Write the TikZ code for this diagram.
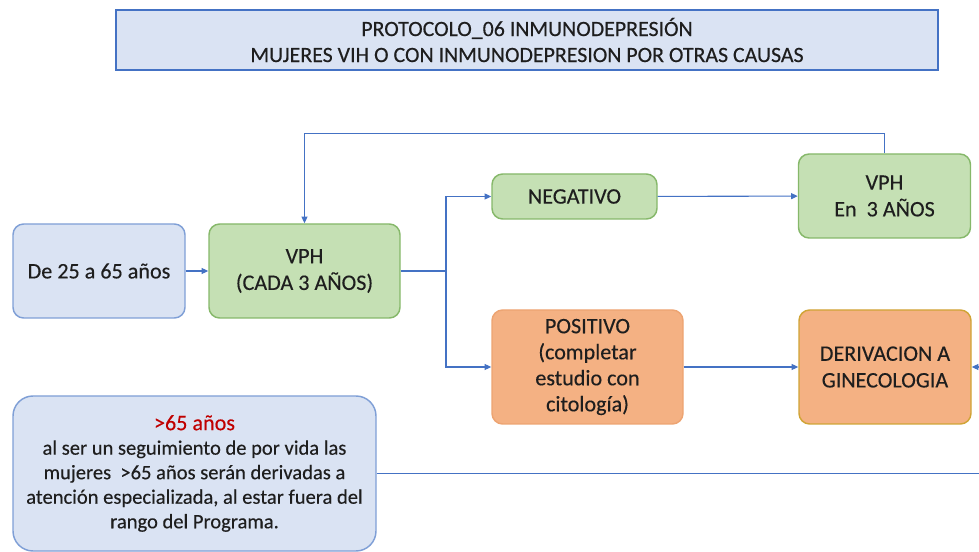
\documentclass[tikz,border=0pt]{standalone}
\usepackage{fontspec}
\setmainfont{Carlito}[FakeBold=0.3]
\usetikzlibrary{arrows.meta}
\definecolor{lblue}{HTML}{DAE3F3}
\definecolor{bblue}{HTML}{4472C4}
\definecolor{sblue}{HTML}{7F9FD6}
\definecolor{lgreen}{HTML}{C5E0B4}
\definecolor{bgreen}{HTML}{86B86A}
\definecolor{lorange}{HTML}{F4B183}
\definecolor{borange}{HTML}{EDA472}
\definecolor{bgold}{HTML}{D0A436}
\definecolor{txt}{HTML}{1E1E1E}
\definecolor{redt}{HTML}{C00000}
\tikzset{
  box/.style={inner sep=0pt, align=center, text=txt, font=\fontsize{16.6}{20}\selectfont, line width=1.1pt},
  bluebox/.style={box, fill=lblue, draw=sblue, rounded corners=8pt},
  greenbox/.style={box, fill=lgreen, draw=bgreen, rounded corners=8pt},
  orangebox/.style={box, fill=lorange, draw=borange, rounded corners=8pt},
  conn/.style={draw=bblue, line width=0.8pt},
  arr/.style={conn, -{Triangle[length=5pt,width=4.5pt]}}
}
\begin{document}
\begin{tikzpicture}[x=0.75pt,y=-0.75pt]
\useasboundingbox (0,0) rectangle (979,552);
\node[box, fill=lblue, draw=bblue, line width=1.3pt, minimum width=616.5pt, minimum height=45pt, font=\fontsize{16.4}{19.5}\selectfont] (title) at (527,40)
  {PROTOCOLO\_06 INMUNODEPRESIÓN\\MUJERES VIH O CON INMUNODEPRESION POR OTRAS CAUSAS};
\node[bluebox, minimum width=129pt, minimum height=70.5pt] (de) at (99,271) {De 25 a 65 años};
\node[greenbox, minimum width=143.25pt, minimum height=70.5pt] (vph) at (304.5,271) {VPH\\(CADA 3 AÑOS)};
\node[greenbox, minimum width=123.75pt, minimum height=33.75pt] (neg) at (574.5,196.5) {NEGATIVO};
\node[greenbox, minimum width=129pt, minimum height=63pt] (vph3) at (884.5,196) {VPH\\En\ \ 3 AÑOS};
\node[orangebox, minimum width=143.25pt, minimum height=85.5pt, font=\fontsize{16.6}{19.5}\selectfont] (pos) at (587.5,367) {POSITIVO\\(completar\\estudio con\\citología)};
\node[orangebox, draw=bgold, minimum width=129pt, minimum height=85.5pt] (der) at (885,367) {DERIVACION A\\GINECOLOGIA};
\node[bluebox, rounded corners=15pt, minimum width=272.25pt, minimum height=116.25pt, font=\fontsize{15.4}{18.4}\selectfont] (old) at (194.5,473.5)
  {{\color{redt}\fontsize{16.6}{18.4}\selectfont >65 años}\\al ser un seguimiento de por vida las\\mujeres\ \ >65 años serán derivadas a\\atención especializada, al estar fuera del\\rango del Programa.};
\coordinate (j) at (446,271);
\coordinate (re) at (992,473.5);
\draw[arr] (de) -- (vph);
\draw[conn] (vph.east) -- (j);
\draw[arr] (j) |- (neg.west);
\draw[arr] (j) |- (pos.west);
\draw[arr] (neg) -- (vph3);
\draw[arr] (vph3.north) -- ++(0,-20) -| (vph.north);
\draw[arr] (pos) -- (der);
\draw[arr] (old.east) -- (re) |- (der.east);
\end{tikzpicture}
\end{document}
